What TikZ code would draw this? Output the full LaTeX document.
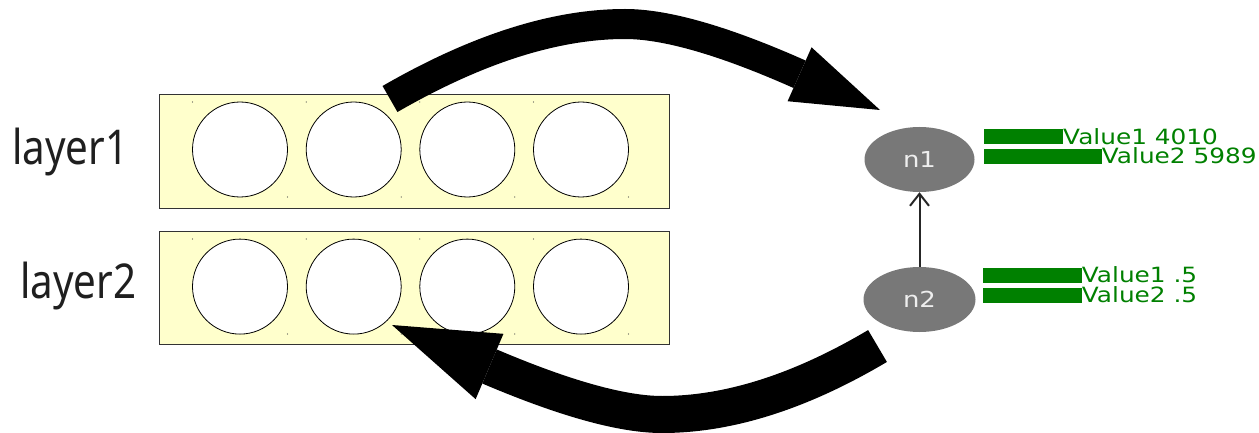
\documentclass[tikz,border=0pt]{standalone}
\usepackage{fontspec}
\usetikzlibrary{shapes.geometric,arrows.meta}
\newfontfamily\labelfont[FakeStretch=0.84]{Noto Sans}
\newfontfamily\valfont[FakeStretch=1.18]{DejaVu Sans}
\definecolor{boxfill}{HTML}{FFFFCC}
\definecolor{nodegray}{HTML}{787878}
\definecolor{valgreen}{HTML}{008000}
\definecolor{ntext}{HTML}{EEEEEE}
\begin{document}
\begin{tikzpicture}[x=1pt,y=-1pt,
  layerbox/.style={draw=black!80, line width=1pt, fill=boxfill, rectangle, minimum width=509.5pt, minimum height=113pt, inner sep=0pt},
  unit/.style={draw=black, line width=0.8pt, fill=white, circle, minimum size=95pt, inner sep=0pt},
  lbl/.style={anchor=base west, inner sep=0pt, text=black!88, font=\labelfont\fontsize{48}{48}\selectfont},
  gnode/.style={ellipse, fill=nodegray, inner sep=0pt, text=ntext, font=\valfont\fontsize{22}{22}\selectfont},
  valtext/.style={anchor=base west, inner sep=0pt, text=valgreen, font=\valfont\fontsize{21}{21}\selectfont},
  bar/.style={fill=valgreen},
  bigA/.style={line width=30pt, -{Triangle[length=88pt 0 0, width=59pt 0 0, line width=0pt 0 0]}},
  bigB/.style={line width=37pt, -{Triangle[length=106pt 0 0, width=71pt 0 0, line width=0pt 0 0]}},
  thinA/.style={line width=2pt, draw=black!85, -{Straight Barb[length=12pt, width=19pt]}},
  dot/.style={fill=black!70}
]
\useasboundingbox (0,0) rectangle (1259,433);

% layer labels
\node[lbl] (l1) at (12,165) {layer1};
\node[lbl] (l2) at (20,298.5) {layer2};

% layer boxes
\node[layerbox] (box1) at (414.25,151.5) {};
\node[layerbox] (box2) at (414.25,288) {};

% units
\foreach \i/\cx in {1/240,2/353.7,3/467.3,4/581}{
  \node[unit] (u1\i) at (\cx,149.5) {};
  \node[unit] (u2\i) at (\cx,286.6) {};
  \fill[dot] (\cx-47.5,102) circle (0.6pt);
  \fill[dot] (\cx+47.5,197) circle (0.6pt);
  \fill[dot] (\cx-47.5,239) circle (0.6pt);
  \fill[dot] (\cx+47.5,334) circle (0.6pt);
}

% graph nodes
\node[gnode, minimum width=110pt, minimum height=65pt] (n1) at (919.5,159.5) {n1};
\node[gnode, minimum width=112pt, minimum height=65pt] (n2) at (919.5,299.5) {n2};
\draw[thinA] (n2) -- (n1);

% value bars
\fill[bar] (984,129) rectangle (1063,144.3);
\fill[bar] (984,149.3) rectangle (1101.7,164);
\fill[bar] (983,268.3) rectangle (1081.7,282.7);
\fill[bar] (983,288.3) rectangle (1081.7,302.7);
\node[valtext] (v11) at (1063,144.3) {Value1 4010};
\node[valtext] (v12) at (1101.7,164) {Value2 5989};
\node[valtext] (v21) at (1081.7,282.7) {Value1 .5};
\node[valtext] (v22) at (1081.7,302.7) {Value2 .5};

% big arrows
\coordinate (a1s) at (390,99);
\coordinate (a1m) at (625,24);
\coordinate (a1e) at (880,110);
\coordinate (a2s) at (877.5,346);
\coordinate (a2m) at (662,414.5);
\coordinate (a2e) at (392,325);
\draw[bigA] (a1s) .. controls (476.7,49) and (555,24) .. (a1m)
  .. controls (666,24) and (724,40.7) .. (a1e);
\draw[bigB] (a2s) .. controls (800.5,391.7) and (728.7,414.5) .. (a2m)
  .. controls (622.3,414.5) and (564.8,398.5) .. (a2e);
\end{tikzpicture}
\end{document}
